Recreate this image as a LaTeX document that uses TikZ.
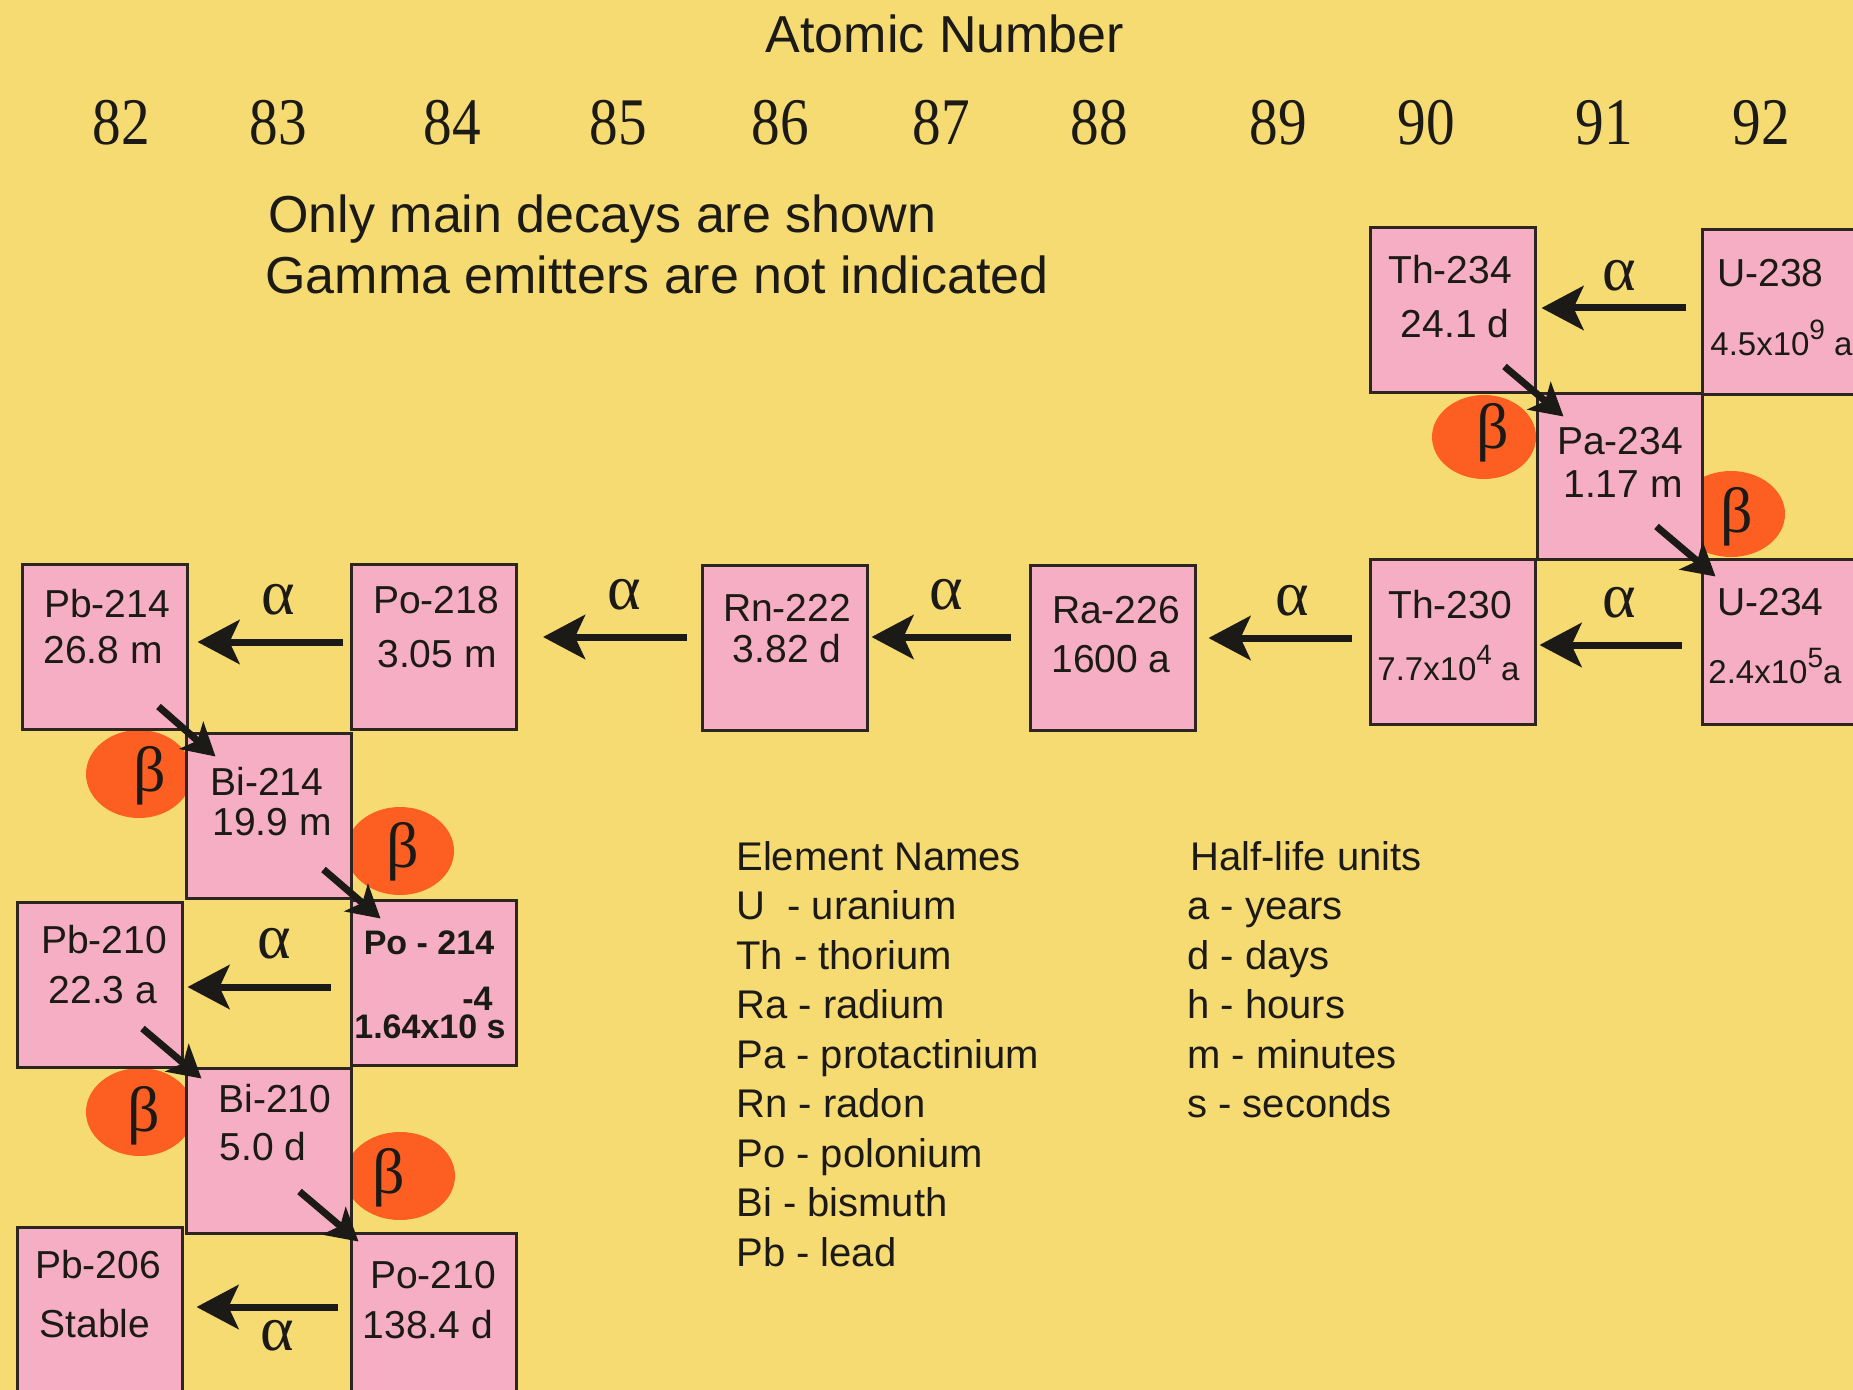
\documentclass[tikz,border=0pt]{standalone}
\usepackage{fontspec}
\setmainfont{Liberation Sans}
\newfontfamily\grkfont{Liberation Serif}
\newfontfamily\numfont[FakeStretch=0.86]{Liberation Serif}
\usetikzlibrary{arrows.meta,calc}
\definecolor{bgy}{RGB}{246,219,114}
\definecolor{boxpink}{RGB}{245,174,196}
\definecolor{betaor}{RGB}{253,95,35}
\definecolor{ink}{RGB}{28,26,22}
\definecolor{edgec}{RGB}{45,38,32}
\newcommand\myexp[1]{\raisebox{8pt}{\fontsize{14}{15}\selectfont #1}}
\tikzset{
  box/.style={draw=edgec, line width=1.5pt, fill=boxpink, minimum width=82.5pt, minimum height=82.5pt, inner sep=0pt},
  lbl/.style={font=\fontsize{19.5}{22}\selectfont, text=ink, inner sep=0pt, anchor=base},
  lblw/.style={lbl, anchor=base west},
  sci/.style={font=\fontsize{16.5}{18}\selectfont, text=ink, inner sep=0pt, anchor=base west},
  bld/.style={font=\fontsize{17}{19}\selectfont\bfseries, text=ink, inner sep=0pt, anchor=base},
  head/.style={font=\fontsize{26}{30}\selectfont, text=ink, inner sep=0pt},
  legend/.style={font=\fontsize{20}{24}\selectfont, text=ink, inner sep=0pt, anchor=base west},
  znum/.style={font=\numfont\fontsize{33.3}{36}\selectfont, text=ink, inner sep=0pt, anchor=base},
  greek/.style={font=\grkfont\fontsize{32}{34}\selectfont, text=ink, inner sep=0pt, anchor=center},
  alph/.style={draw=ink, line width=3.5pt, -{Stealth[length=21pt,width=22pt,inset=5pt]}},
  betarr/.style={draw=ink, line width=3.5pt, -{Stealth[length=16pt,width=18pt,inset=4pt]}},
  blob/.style={fill=betaor}
}
\begin{document}
\begin{tikzpicture}[x=0.5pt,y=-0.5pt]
\useasboundingbox (0,0) rectangle (1853,1390);
\clip (0,0) rectangle (1853,1390);
\fill[bgy] (0,0) rectangle (1853,1390);

% header
\node[head, anchor=base] (title) at (945,53) {Atomic Number};
\foreach \n/\x in {82/121.5,83/278,84/452,85/618,86/780,87/941,88/1099,89/1278,90/1426,91/1604,92/1761}
  \node[znum] (z\n) at (\x,145) {\n};
\node[head, anchor=base west] (note1) at (268,233) {Only main decays are shown};
\node[head, anchor=base west] (note2) at (265,294) {Gamma emitters are not indicated};

% beta blobs
\fill[blob] (1484,437) ellipse [x radius=26pt, y radius=21pt];
\fill[blob] (1731,514) ellipse [x radius=27pt, y radius=21.5pt];
\fill[blob] (139,774) ellipse [x radius=26.5pt, y radius=22pt];
\fill[blob] (400,851) ellipse [x radius=27pt, y radius=22pt];
\fill[blob] (140,1112) ellipse [x radius=27pt, y radius=22pt];
\fill[blob] (400,1176) ellipse [x radius=27.5pt, y radius=22pt];

% boxes
\node[box] (th234) at (1452.5,310.5) {};
\node[box] (u238)  at (1784.5,312.5) {};
\node[box] (pa234) at (1619.5,476.5) {};
\node[box] (th230) at (1452.5,641.5) {};
\node[box] (u234)  at (1784.5,641.5) {};
\node[box] (ra226) at (1112.5,647.5) {};
\node[box] (rn222) at (784.5,647.5) {};
\node[box] (po218) at (434,646.5) {};
\node[box] (pb214) at (104.5,646.5) {};
\node[box] (bi214) at (269,815.5) {};
\node[box] (pb210) at (99.5,984.5) {};
\node[box] (po214) at (433.5,983) {};
\node[box] (bi210) at (269,1151) {};
\node[box] (pb206) at (99.5,1309.5) {};
\node[box] (po210) at (433.5,1315.5) {};

% alpha arrows
\draw[alph] ([shift={(-15,-4.5)}]u238.west) -- ([shift={(5,-2.5)}]th234.east);
\draw[alph] ([shift={(-19,3.5)}]u234.west) -- ([shift={(3,3.5)}]th230.east);
\draw[alph] ([shift={(-17,-3.5)}]th230.west) -- ([shift={(12,-9.5)}]ra226.east);
\draw[alph] ([shift={(-18,-10.5)}]ra226.west) -- ([shift={(3,-10.5)}]rn222.east);
\draw[alph] ([shift={(-14,-10.5)}]rn222.west) -- ([shift={(25,-9.5)}]po218.east);
\draw[alph] ([shift={(-7,-4.5)}]po218.west) -- ([shift={(9,-4.5)}]pb214.east);
\draw[alph] ([shift={(-19,4)}]po214.west) -- ([shift={(4,2.5)}]pb210.east);
\draw[alph] ([shift={(-12,-8.5)}]po210.west) -- ([shift={(13,-2.5)}]pb206.east);

% beta arrows
\draw[betarr] ($(th234.south east)+(-32,-28)$) -- ($(pa234.north west)+(28,24)$);
\draw[betarr] ($(pa234.south east)+(-47,-34)$) -- ($(u234.north west)+(15,19)$);
\draw[betarr] ($(pb214.south east)+(-30,-24)$) -- ($(bi214.north west)+(30.5,25)$);
\draw[betarr] ($(bi214.south east)+(-29.5,-30)$) -- ($(po214.north west)+(31,19.5)$);
\draw[betarr] ($(pb210.south east)+(-41,-40)$) -- ($(bi210.north west)+(16.5,11.5)$);
\draw[betarr] ($(bi210.south east)+(-53.5,-43.5)$) -- ($(po210.north west)+(9,10)$);

% alpha labels
\node[greek] (a1) at (1619,276) {α};
\node[greek] (a2) at (1619,603) {α};
\node[greek] (a3) at (1292,601) {α};
\node[greek] (a4) at (946,595) {α};
\node[greek] (a5) at (624,595) {α};
\node[greek] (a6) at (278,600) {α};
\node[greek] (a7) at (274,944) {α};
\node[greek] (a8) at (277,1336) {α};

% beta labels
\node[greek] (b1) at (1493,433) {β};
\node[greek] (b2) at (1737,517) {β};
\node[greek] (b3) at (150,776) {β};
\node[greek] (b4) at (403,852) {β};
\node[greek] (b5) at (144,1116) {β};
\node[greek] (b6) at (389,1178) {β};

% box texts
\node[lbl] (th234a) at (1450,284) {Th-234};
\node[lbl] (th234b) at (1455,338) {24.1 d};
\node[lblw] (u238a) at (1717,287) {U-238};
\node[sci] (u238b) at (1710,356) {4.5x10\myexp{9} a};
\node[lbl] (pa234a) at (1620,455) {Pa-234};
\node[lbl] (pa234b) at (1623,498) {1.17 m};
\node[lbl] (th230a) at (1450,618) {Th-230};
\node[sci] (th230b) at (1377,680) {7.7x10\myexp{4} a};
\node[lblw] (u234a) at (1717,615) {U-234};
\node[sci] (u234b) at (1708,683) {2.4x10\myexp{5}a};
\node[lbl] (ra226a) at (1116,623) {Ra-226};
\node[lbl] (ra226b) at (1111,672) {1600 a};
\node[lbl] (rn222a) at (787,621) {Rn-222};
\node[lbl] (rn222b) at (787,662) {3.82 d};
\node[lbl] (po218a) at (436,613) {Po-218};
\node[lbl] (po218b) at (437,667) {3.05 m};
\node[lbl] (pb214a) at (107,617) {Pb-214};
\node[lbl] (pb214b) at (103,663) {26.8 m};
\node[lbl] (bi214a) at (267,795) {Bi-214};
\node[lbl] (bi214b) at (272,835) {19.9 m};
\node[lbl] (pb210a) at (104,953) {Pb-210};
\node[lbl] (pb210b) at (103,1003) {22.3 a};
\node[bld] (po214a) at (429,954) {Po - 214};
\node[bld, anchor=base east] (po214e) at (493,1010) {-4};
\node[bld] (po214b) at (430,1038) {1.64x10 s};
\node[lbl] (bi210a) at (275,1112) {Bi-210};
\node[lbl] (bi210b) at (263,1160) {5.0 d};
\node[lbl] (pb206a) at (98,1278) {Pb-206};
\node[lbl] (pb206b) at (95,1337) {Stable};
\node[lbl] (po210a) at (433,1288) {Po-210};
\node[lbl] (po210b) at (428,1338) {138.4 d};

% legends
\node[legend] (el0) at (736,870) {Element Names};
\node[legend] (el1) at (736,919.5) {U~ - uranium};
\node[legend] (el2) at (736,969) {Th - thorium};
\node[legend] (el3) at (736,1018.5) {Ra - radium};
\node[legend] (el4) at (736,1068) {Pa - protactinium};
\node[legend] (el5) at (736,1117.5) {Rn - radon};
\node[legend] (el6) at (736,1167) {Po - polonium};
\node[legend] (el7) at (736,1216.5) {Bi - bismuth};
\node[legend] (el8) at (736,1266) {Pb - lead};
\node[legend] (hl0) at (1190,870) {Half-life units};
\node[legend] (hl1) at (1187,919.5) {a - years};
\node[legend] (hl2) at (1187,969) {d - days};
\node[legend] (hl3) at (1187,1018.5) {h - hours};
\node[legend] (hl4) at (1187,1068) {m - minutes};
\node[legend] (hl5) at (1187,1117.5) {s - seconds};
\end{tikzpicture}
\end{document}
